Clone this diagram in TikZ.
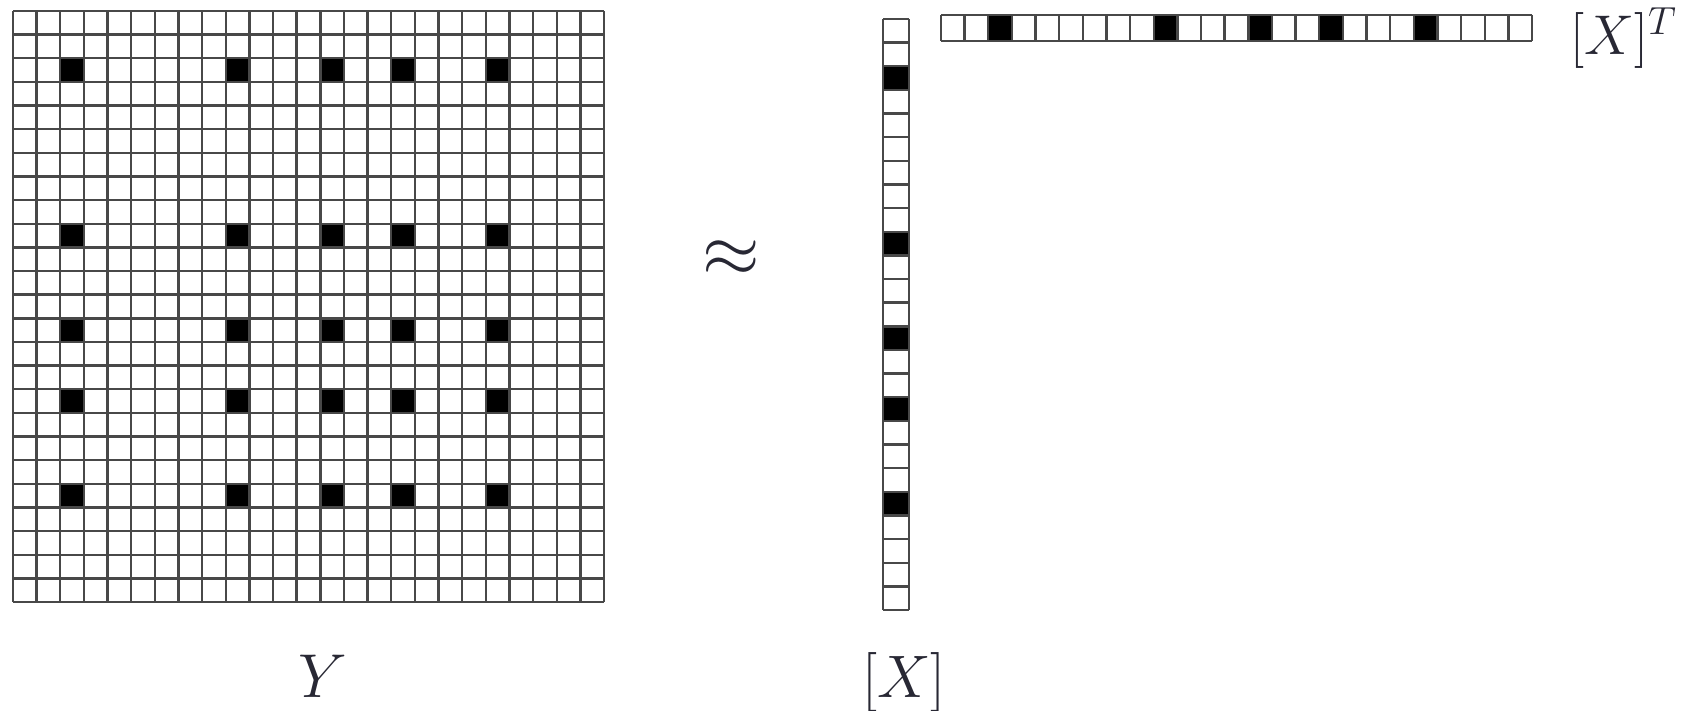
\RequirePackage{fix-cm}
\documentclass[tikz,border=0pt]{standalone}
\definecolor{gridc}{RGB}{72,72,72}
\definecolor{txt}{RGB}{40,40,52}
\begin{document}
\begin{tikzpicture}[x=1pt,y=-1pt,
  gridline/.style={draw=gridc,line width=2.4pt},
  cellfill/.style={fill=black},
  lab/.style={text=txt,inner sep=0pt}]
\useasboundingbox (0,0) rectangle (1681,711);
% ---- Y matrix 25x25 ----
\foreach \r in {2,9,13,16,20}{
  \foreach \c in {2,9,13,16,20}{
    \fill[cellfill] (13+\c*23.64,11+\r*23.64) rectangle ++(23.64,23.64);
  }
}
\foreach \i in {0,...,25}{
  \draw[gridline] (13+\i*23.64,11) -- (13+\i*23.64,602);
  \draw[gridline] (13,11+\i*23.64) -- (604,11+\i*23.64);
}
% ---- column vector X ----
\foreach \r in {2,9,13,16,20}{
  \fill[cellfill] (883,19+\r*23.64) rectangle ++(26,23.64);
}
\foreach \i in {0,...,25}{
  \draw[gridline] (883,19+\i*23.64) -- (909,19+\i*23.64);
}
\draw[gridline] (883,19) -- (883,610) (909,19) -- (909,610);
% ---- row vector X^T ----
\foreach \c in {2,9,13,16,20}{
  \fill[cellfill] (941+\c*23.64,15) rectangle ++(23.64,26);
}
\foreach \i in {0,...,25}{
  \draw[gridline] (941+\i*23.64,15) -- (941+\i*23.64,41);
}
\draw[gridline] (941,15) -- (1532,15) (941,41) -- (1532,41);
% ---- labels ----
\node[lab,anchor=base] (Y) at (323,697) {\fontsize{62}{70}\selectfont$Y$};
\node[lab,anchor=base] (X) at (904,697) {\fontsize{60}{70}\selectfont$[X]$};
\node[lab,anchor=base west] (XT) at (1570,55) {\fontsize{56}{64}\selectfont$[X]^T$};
\node[lab] (approx) at (731,259) {\fontsize{74}{80}\selectfont$\approx$};
\end{tikzpicture}
\end{document}
